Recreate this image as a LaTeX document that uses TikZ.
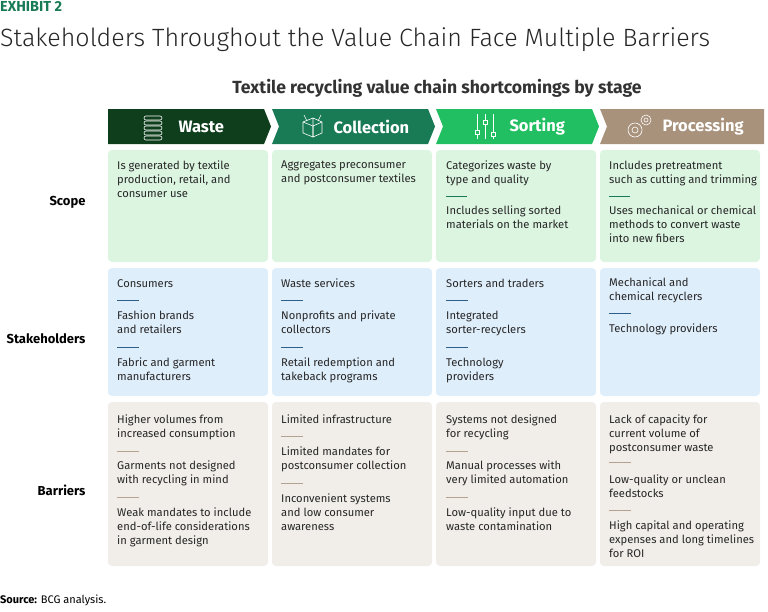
\documentclass[tikz,border=0pt]{standalone}
\usepackage{fontspec}
\setmainfont{Fira Sans}
\newfontfamily\lightfont{Fira Sans Light}
\begin{document}
\begin{tikzpicture}[x=1pt,y=-1pt,
  body/.style={anchor=north west,align=left,inner sep=0pt,font=\fontsize{11.2}{14}\selectfont,text=black!85,yshift=-2pt},
  rowlab/.style={anchor=east,font=\bfseries\fontsize{13}{15}\selectfont},
  head/.style={font=\bfseries\fontsize{16.5}{18}\selectfont,text=white},
  icon/.style={draw=white,line width=0.6pt},
]
\useasboundingbox (0,0) rectangle (768,611);
\definecolor{gA}{HTML}{0E3E1B}\definecolor{gB}{HTML}{197A56}
\definecolor{gC}{HTML}{21BF61}\definecolor{gD}{HTML}{A8927C}
\definecolor{cS}{HTML}{DCF5E1}\definecolor{cT}{HTML}{DFEEFB}\definecolor{cB}{HTML}{F1EEEA}
\definecolor{dS}{HTML}{197A56}\definecolor{dT}{HTML}{2D5F8A}\definecolor{dB}{HTML}{B5A392}
\node[anchor=north west,inner sep=0pt,font=\bfseries\fontsize{14.5}{16}\selectfont,text=gB] (ex) at (0,1) {EXHIBIT 2};
\node[anchor=west,inner sep=0pt,font=\lightfont\fontsize{25}{28}\selectfont,text=black!85] (ti) at (0,40) {Stakeholders Throughout the Value Chain Face Multiple Barriers};
\node[font=\bfseries\fontsize{17.6}{20}\selectfont,text=black!80] (st) at (437,88) {Textile recycling value chain shortcomings by stage};
% chevrons
\fill[gA] (108,109) -- (264,109) -- (271,126.5) -- (264,144) -- (108,144) -- cycle;
\fill[gB] (272,109) -- (428,109) -- (435,126.5) -- (428,144) -- (272,144) -- (279,126.5) -- cycle;
\fill[gC] (436,109) -- (592,109) -- (599,126.5) -- (592,144) -- (436,144) -- (443,126.5) -- cycle;
\fill[gD] (600,109) -- (764,109) -- (764,144) -- (600,144) -- (607,126.5) -- cycle;
\node[head,anchor=west] (h1) at (175,127) {Waste};
\node[head,anchor=west] (h2) at (330,127) {Collection};
\node[head,anchor=west] (h3) at (506,127) {Sorting};
\node[head,anchor=west] (h4) at (659,127) {Processing};
% icons
\foreach \yy in {116,121,126,131,136}{\draw[icon,rounded corners=2pt] (144,\yy) rectangle (162,\yy+4);}
\draw[icon] (303,122) -- (313,118) -- (313,137) -- (303,133) -- cycle (313,118) -- (322,122) -- (322,133) -- (313,137);
\draw[icon] (303,122) -- (313,126) -- (322,122) (313,126)--(313,137) (307,121)--(304,115) (318,121)--(321,115);
\foreach \xx/\yb in {477/130,485/120,493/132}{\draw[icon] (\xx,114)--(\xx,139); \draw[icon,fill=gC] (\xx-2,\yb) rectangle (\xx+2,\yb+4);}
\draw[icon] (635,130) circle (7) (635,130) circle (3);
\draw[icon] (646,120) circle (5) (646,120) circle (2);
% cells
\foreach \x in {108,272,436,600}{
 \fill[cS,rounded corners=4pt] (\x,150) rectangle (\x+160,262);
 \fill[cT,rounded corners=4pt] (\x,268) rectangle (\x+160,396);
 \fill[cB,rounded corners=4pt] (\x,402) rectangle (\x+160,566);}
\node[rowlab] (r1) at (89,202) {Scope};
\node[rowlab] (r2) at (89,339) {Stakeholders};
\node[rowlab] (r3) at (89,490) {Barriers};
% scope
\node[body] (s1) at (117,159) {Is generated by textile\\production, retail, and\\consumer use};
\node[body] (s2) at (281,159) {Aggregates preconsumer\\and postconsumer textiles};
\node[body] (s3) at (446,159) {Categorizes waste by\\type and quality};
\draw[dS,line width=1pt] (446,196)--(467,196);
\node[body] (s3b) at (446,204) {Includes selling sorted\\materials on the market};
\node[body] (s4) at (609,159) {Includes pretreatment\\such as cutting and trimming};
\draw[dS,line width=1pt] (609,196)--(630,196);
\node[body] (s4b) at (609,204) {Uses mechanical or chemical\\methods to convert waste\\into new fibers};
% stakeholders
\node[body] (t1) at (117,277) {Consumers};
\draw[dT,line width=1pt] (117,300)--(139,300);
\node[body] (t1b) at (117,309) {Fashion brands\\and retailers};
\draw[dT,line width=1pt] (117,347)--(139,347);
\node[body] (t1c) at (117,356) {Fabric and garment\\manufacturers};
\node[body] (t2) at (281,277) {Waste services};
\draw[dT,line width=1pt] (281,300)--(303,300);
\node[body] (t2b) at (281,309) {Nonprofits and private\\collectors};
\draw[dT,line width=1pt] (281,347)--(303,347);
\node[body] (t2c) at (281,356) {Retail redemption and\\takeback programs};
\node[body] (t3) at (446,277) {Sorters and traders};
\draw[dT,line width=1pt] (446,300)--(468,300);
\node[body] (t3b) at (446,309) {Integrated\\sorter-recyclers};
\draw[dT,line width=1pt] (446,347)--(468,347);
\node[body] (t3c) at (446,356) {Technology\\providers};
\node[body] (t4) at (609,276) {Mechanical and\\chemical recyclers};
\draw[dT,line width=1pt] (609,313)--(631,313);
\node[body] (t4b) at (609,322) {Technology providers};
% barriers
\node[body] (b1) at (117,413) {Higher volumes from\\increased consumption};
\draw[dB,line width=1pt] (117,451)--(139,451);
\node[body] (b1b) at (117,459) {Garments not designed\\with recycling in mind};
\draw[dB,line width=1pt] (117,497)--(139,497);
\node[body] (b1c) at (117,506) {Weak mandates to include\\end-of-life considerations\\in garment design};
\node[body] (b2) at (281,413) {Limited infrastructure};
\draw[dB,line width=1pt] (281,436)--(303,436);
\node[body] (b2b) at (281,445) {Limited mandates for\\postconsumer collection};
\draw[dB,line width=1pt] (281,483)--(303,483);
\node[body] (b2c) at (281,492) {Inconvenient systems\\and low consumer\\awareness};
\node[body] (b3) at (446,413) {Systems not designed\\for recycling};
\draw[dB,line width=1pt] (446,451)--(468,451);
\node[body] (b3b) at (446,459) {Manual processes with\\very limited automation};
\draw[dB,line width=1pt] (446,497)--(468,497);
\node[body] (b3c) at (446,506) {Low-quality input due to\\waste contamination};
\node[body] (b4) at (609,413) {Lack of capacity for\\current volume of\\postconsumer waste};
\draw[dB,line width=1pt] (609,462)--(631,462);
\node[body] (b4b) at (609,473) {Low-quality or unclean\\feedstocks};
\draw[dB,line width=1pt] (609,510)--(631,510);
\node[body] (b4c) at (609,519) {High capital and operating\\expenses and long timelines\\for ROI};
\node[anchor=west,inner sep=0pt,font=\fontsize{11}{13}\selectfont] (src) at (0,600) {\textbf{Source:} BCG analysis.};
\end{tikzpicture}
\end{document}
